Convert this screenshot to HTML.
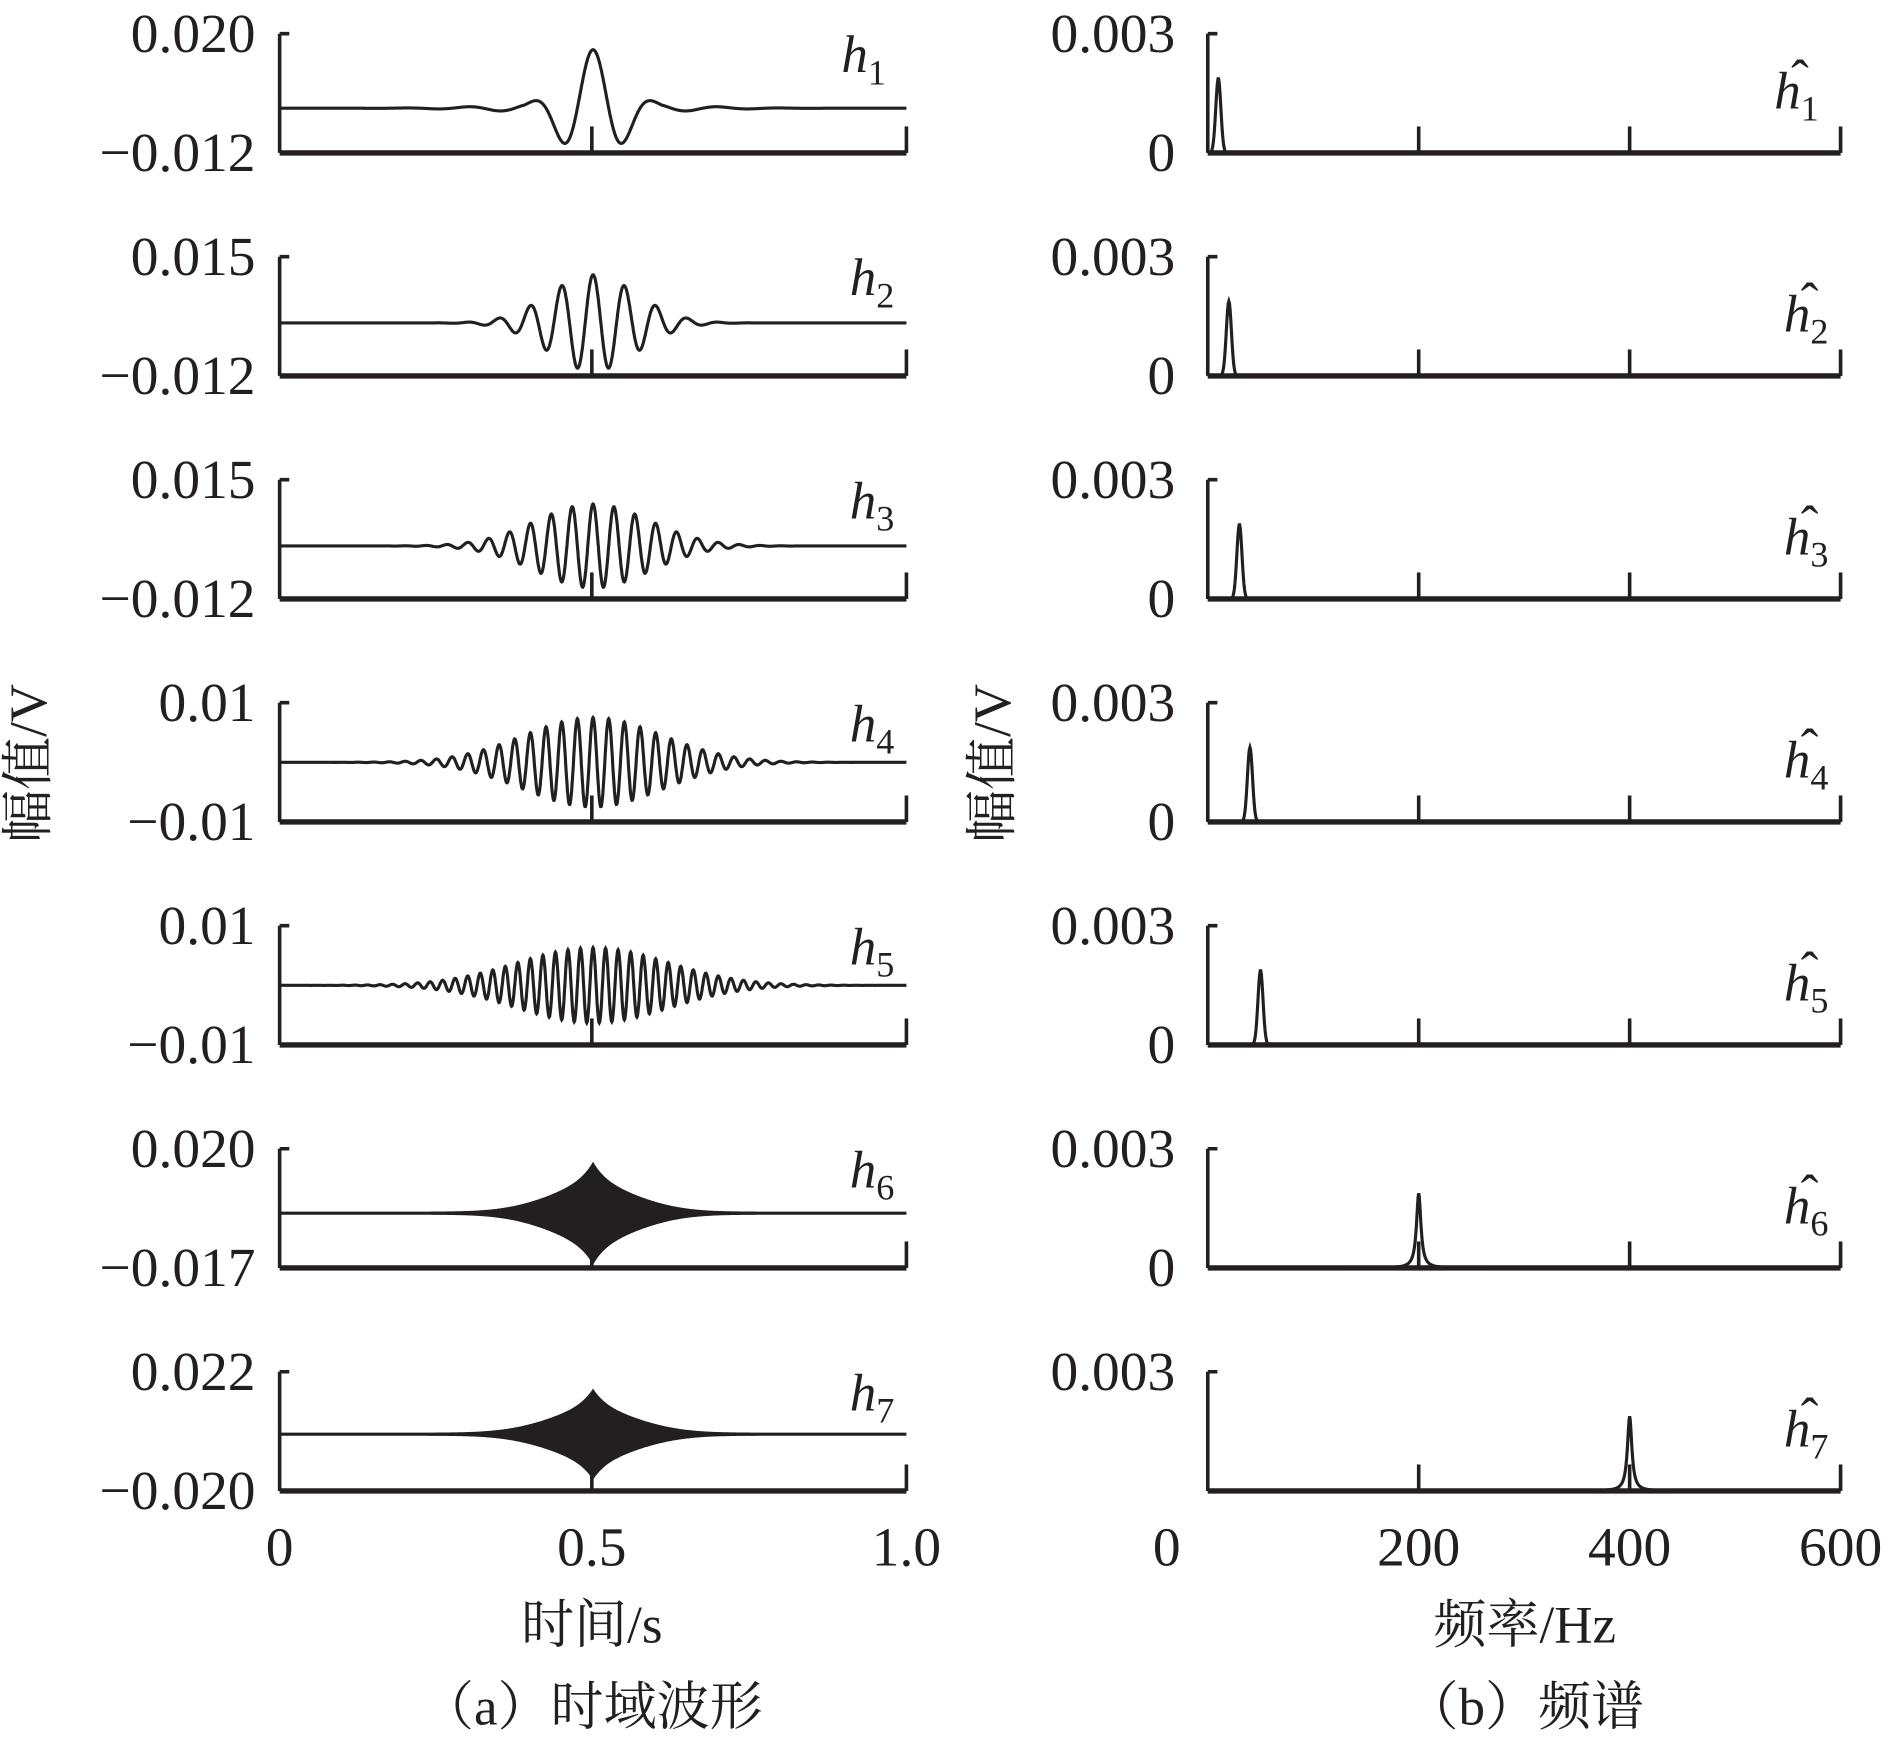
<!DOCTYPE html>
<html><head><meta charset="utf-8"><style>body{margin:0;background:#fff}svg{display:block}text{font-family:"Liberation Serif","Noto Serif CJK SC",serif;fill:#231f20}</style></head>
<body>
<svg id="s" width="1890" height="1746" viewBox="0 0 1568 1450" preserveAspectRatio="none" xmlns="http://www.w3.org/2000/svg"></svg>
<script>
const s=document.getElementById('s');let h='';
const L0=232,L1=752,R0=1002,R1=1527;
const rows=[["0.020","-0.012",0.020,-0.012],["0.015","-0.012",0.015,-0.012],["0.015","-0.012",0.015,-0.012],["0.01","-0.01",0.01,-0.01],["0.01","-0.01",0.01,-0.01],["0.020","-0.017",0.020,-0.017],["0.022","-0.020",0.022,-0.020]];
const fr=[10,20,30,40,50,200,400],amp=[0.0157,0.0109,0.0095,0.0075,0.0063,0.0155,0.0155],sig=[0.047,0.07,0.09,0.11,0.12,0,0];
const col='#231f20';
function axes(x0,x1,top,bot,ticks){let a=`<path d="M${x0} ${top}H${x0+8}M${x0} ${top}V${bot}" stroke="${col}" stroke-width="3" fill="none"/>`;
a+=`<path d="M${x0} ${bot}H${x1}" stroke="${col}" stroke-width="4.5"/>`;
ticks.forEach(t=>a+=`<path d="M${t} ${bot}V${bot-22}" stroke="${col}" stroke-width="3"/>`);return a;}
for(let i=0;i<7;i++){
 const top=28+185.2*i,bot=top+99,[lt,lb,ymax,ymin]=rows[i];
 const Y=v=>top+(ymax-v)/(ymax-ymin)*99;
 h+=axes(L0,L1,top,bot,[491,L1]);h+=axes(R0,R1,top,bot,[1177,1352,R1]);
 h+=`<text x="212" y="${top+15}" font-size="46" text-anchor="end">${lt.replace('-','−')}</text>`;
 h+=`<text x="212" y="${bot+15}" font-size="46" text-anchor="end">${lb.replace('-','−')}</text>`;
 h+=`<text x="975" y="${top+15}" font-size="46" text-anchor="end">0.003</text>`;
 if(i<6)h+=`<text x="975" y="${bot+15}" font-size="46" text-anchor="end">0</text>`;
 const lx=i==0?698:705, rx=i==0?1472:1480;
 h+=`<text x="${lx}" y="${top+32}" font-size="44" font-style="italic">h<tspan font-size="30" font-style="normal" dy="10">${i+1}</tspan></text>`;
 h+=`<text x="${rx}" y="${top+62}" font-size="44" font-style="italic">h<tspan font-size="30" font-style="normal" dy="10">${i+1}</tspan></text>`;
 h+=`<text x="${rx+14}" y="${top+52}" font-size="44">ˆ</text>`;
 if(i<5){let d='';const N=1400;for(let k=0;k<=N;k++){const t=k/N;const g=Math.exp(-((t-.5)**2)/(2*sig[i]**2));const g2=i==0?0.1*Math.exp(-((t-.5)**2)/(2*0.12**2)):0;const v=amp[i]*Math.max(g,g2)*Math.cos(2*Math.PI*fr[i]*(t-.5));d+=(k?'L':'M')+(L0+t*(L1-L0)).toFixed(1)+' '+Y(v).toFixed(2);}
  h+=`<path d="${d}" stroke="${col}" stroke-width="2.6" fill="none"/>`;}
 else{let up='',dn='';const N=520;for(let k=0;k<=N;k++){const t=k/N,u=Math.abs(t-.5);let e=amp[i]*(0.55*Math.exp(-u/0.025)+0.45*Math.exp(-(u*u)/(2*0.075*0.075)));const x=(L0+t*(L1-L0)).toFixed(1);up+=(k?'L':'M')+x+' '+(Y(e)-1.3).toFixed(2);dn='L'+x+' '+(Y(-e)+1.3).toFixed(2)+dn;}
  h+=`<path d="${up}${dn}Z" fill="${col}"/>`;}
 const px=R0+fr[i]/600*(R1-R0);const pk=bot-62;const w=i<5?2.1:2.2;let d='';
 for(let x=R0;x<=R1;x+=0.5){const u=(x-px)/w;const v=i<5?Math.exp(-u*u/2):1/(1+u*u);d+=(x==R0?'M':'L')+x+' '+(bot-(bot-pk)*v).toFixed(2);}
 h+=`<path d="${d}" stroke="${col}" stroke-width="2.6" fill="none"/>`;
}
h+=`<text x="232" y="1300" font-size="46" text-anchor="middle">0</text><text x="491" y="1300" font-size="46" text-anchor="middle">0.5</text><text x="752" y="1300" font-size="46" text-anchor="middle">1.0</text>`;
h+=`<text x="968" y="1300" font-size="46" text-anchor="middle">0</text><text x="1177" y="1300" font-size="46" text-anchor="middle">200</text><text x="1352" y="1300" font-size="46" text-anchor="middle">400</text><text x="1527" y="1300" font-size="46" text-anchor="middle">600</text>`;
h+=`<text x="491" y="1364" font-size="44" text-anchor="middle">时间/s</text><text x="1265" y="1364" font-size="44" text-anchor="middle">频率/Hz</text>`;
h+=`<text x="491" y="1432" font-size="44" text-anchor="middle">（a）时域波形</text><text x="1265" y="1432" font-size="44" text-anchor="middle">（b）频谱</text>`;
h+=`<text transform="translate(38,634) rotate(-90)" font-size="44" text-anchor="middle">幅值/V</text><text transform="translate(838,634) rotate(-90)" font-size="44" text-anchor="middle">幅值/V</text>`;
s.innerHTML=h;
</script>
</body></html>
